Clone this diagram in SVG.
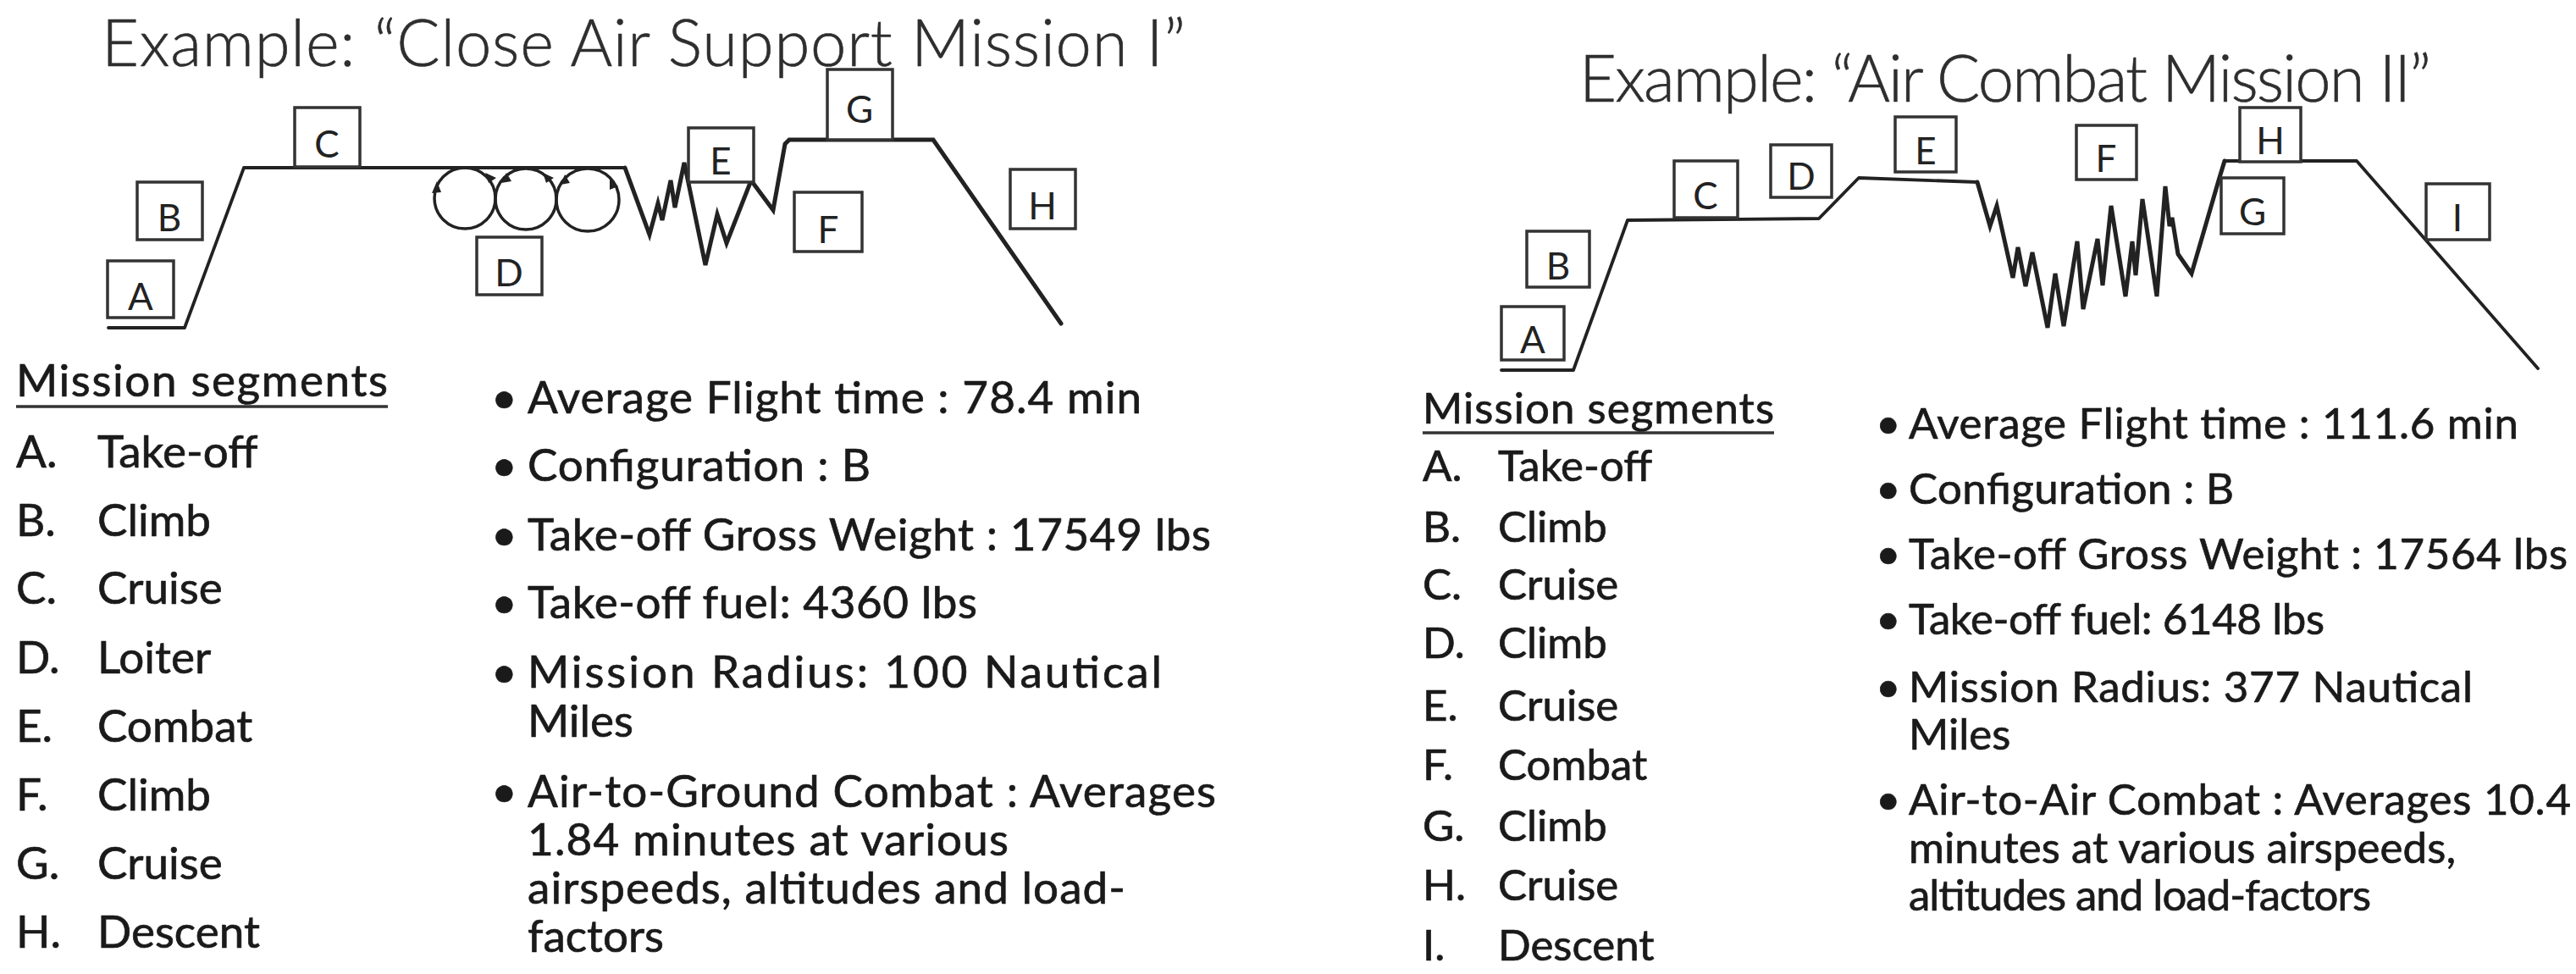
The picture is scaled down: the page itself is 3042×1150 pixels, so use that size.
<svg xmlns="http://www.w3.org/2000/svg" width="3042" height="1150" viewBox="0 0 3042 1150">
<style>
.bg{fill:#ffffff}
.title{font-family:Lato,"Open Sans","DejaVu Sans",sans-serif;font-weight:300;fill:#2e2e2e;stroke:#2e2e2e;stroke-width:0.6}
.box rect{fill:#ffffff;stroke:#333333;stroke-width:3.5}
.box text{font-family:Lato,"Open Sans","DejaVu Sans",sans-serif;font-size:44px;fill:#222222;text-anchor:middle}
.path{fill:none;stroke:#222222;stroke-width:3.8;stroke-linejoin:round;stroke-linecap:round}
.zig{fill:none;stroke:#222222;stroke-width:5;stroke-linejoin:miter;stroke-linecap:round}
.loop{fill:none;stroke:#222222;stroke-width:3.5}
.arr{fill:#222222}
.tl{font-family:Lato,"Open Sans","DejaVu Sans",sans-serif;font-size:53px;fill:#1a1a1a;stroke:#1a1a1a;stroke-width:0.7}
.tr{font-family:Lato,"Open Sans","DejaVu Sans",sans-serif;font-size:51px;fill:#1a1a1a;stroke:#1a1a1a;stroke-width:0.7}
.ul{stroke:#333333;stroke-width:3.5}
</style>
<rect class="bg" x="0" y="0" width="3042" height="1150"/>

<g id="titles">
<text class="title" x="120" y="78" font-size="76" textLength="1280">Example: “Close Air Support Mission I”</text>
<text class="title" x="1865" y="120" font-size="76" textLength="1006">Example: “Air Combat Mission II”</text>
</g>

<g id="connectors">
<path class="path" d="M128,387 L218,387 L288,198 L738,198"/>
<path class="zig" d="M738,198 L767,277 L777,240 L782,260 L792,213 L797,245 L808,192 L833,313 L847,253 L858,287 L887,213 L913,248 L927,170 L932,165 L1102,165 L1253,382"/>
<circle class="loop" cx="549" cy="234" r="36"/>
<circle class="loop" cx="621" cy="235" r="36"/>
<circle class="loop" cx="694" cy="236" r="37"/>
<polygon class="arr" points="510,228 516,214 521,227"/>
<polygon class="arr" points="573,204 586,210 577,216"/>
<polygon class="arr" points="592,216 598,204 604,214"/>
<polygon class="arr" points="641,204 654,210 645,216"/>
<polygon class="arr" points="662,218 667,206 673,216"/>
<polygon class="arr" points="720,210 730,220 720,224"/>
<path class="path" d="M1773,437 L1858,437 L1922,260 L2148,258 L2195,210 L2335,215"/>
<path class="zig" d="M2335,215 L2350,267 L2358,243 L2377,328 L2383,292 L2392,338 L2400,298 L2418,387 L2427,323 L2437,385 L2453,285 L2460,365 L2477,282 L2483,337 L2493,243 L2510,350 L2518,285 L2522,325 L2530,235 L2547,350 L2557,220 L2562,267 L2565,257 L2572,300 L2588,323 L2620,213 L2627,190"/>
<path class="path" d="M2627,190 L2783,190 L2997,435"/>
</g>

<g id="left-A" class="box"><rect x="127" y="308" width="78" height="67"/><text x="166" y="366">A</text></g>
<g id="left-B" class="box"><rect x="162" y="215" width="77" height="68"/><text x="200" y="273">B</text></g>
<g id="left-C" class="box"><rect x="348" y="127" width="77" height="70"/><text x="386" y="186">C</text></g>
<g id="left-D" class="box"><rect x="563" y="280" width="77" height="68"/><text x="601" y="338">D</text></g>
<g id="left-E" class="box"><rect x="813" y="151" width="77" height="64"/><text x="851" y="206">E</text></g>
<g id="left-F" class="box"><rect x="938" y="227" width="80" height="70"/><text x="978" y="287">F</text></g>
<g id="left-G" class="box"><rect x="977" y="82" width="77" height="83"/><text x="1015" y="145">G</text></g>
<g id="left-H" class="box"><rect x="1193" y="200" width="77" height="70"/><text x="1231" y="259">H</text></g>

<g id="right-A" class="box"><rect x="1773" y="362" width="74" height="63"/><text x="1810" y="417">A</text></g>
<g id="right-B" class="box"><rect x="1803" y="273" width="74" height="66"/><text x="1840" y="330">B</text></g>
<g id="right-C" class="box"><rect x="1977" y="190" width="75" height="67"/><text x="2014" y="247">C</text></g>
<g id="right-D" class="box"><rect x="2091" y="171" width="72" height="62"/><text x="2127" y="224">D</text></g>
<g id="right-E" class="box"><rect x="2238" y="138" width="72" height="65"/><text x="2274" y="194">E</text></g>
<g id="right-F" class="box"><rect x="2452" y="148" width="71" height="64"/><text x="2487" y="203">F</text></g>
<g id="right-G" class="box"><rect x="2623" y="210" width="74" height="66"/><text x="2660" y="266">G</text></g>
<g id="right-H" class="box"><rect x="2645" y="127" width="72" height="64"/><text x="2681" y="182">H</text></g>
<g id="right-I" class="box"><rect x="2865" y="217" width="75" height="66"/><text x="2902" y="273">I</text></g>

<g id="left-segments" class="tl">
<text x="19" y="468" textLength="439">Mission segments</text>
<line class="ul" x1="19" y1="480" x2="458" y2="480"/>
<text x="19" y="552">A.</text><text x="115" y="552">Take-off</text>
<text x="19" y="633">B.</text><text x="115" y="633">Climb</text>
<text x="19" y="713">C.</text><text x="115" y="713">Cruise</text>
<text x="19" y="795">D.</text><text x="115" y="795">Loiter</text>
<text x="19" y="876">E.</text><text x="115" y="876">Combat</text>
<text x="19" y="957">F.</text><text x="115" y="957">Climb</text>
<text x="19" y="1038">G.</text><text x="115" y="1038">Cruise</text>
<text x="19" y="1119">H.</text><text x="115" y="1119">Descent</text>
</g>

<g id="left-facts" class="tl">
<text x="580" y="488">•</text><text x="623" y="488" textLength="725">Average Flight time : 78.4 min</text>
<text x="580" y="568">•</text><text x="623" y="568" textLength="405">Configuration : B</text>
<text x="580" y="650">•</text><text x="623" y="650" textLength="807">Take-off Gross Weight : 17549 lbs</text>
<text x="580" y="730">•</text><text x="623" y="730" textLength="531">Take-off fuel: 4360 lbs</text>
<text x="580" y="812">•</text><text x="623" y="812" textLength="749">Mission Radius: 100 Nautical</text>
<text x="623" y="870">Miles</text>
<text x="580" y="953">•</text><text x="623" y="953" textLength="813">Air-to-Ground Combat : Averages</text>
<text x="623" y="1010" textLength="568">1.84 minutes at various</text>
<text x="623" y="1067" textLength="706">airspeeds, altitudes and load-</text>
<text x="623" y="1124">factors</text>
</g>

<g id="right-segments" class="tr">
<text x="1680" y="500" textLength="415">Mission segments</text>
<line class="ul" x1="1680" y1="511" x2="2095" y2="511"/>
<text x="1680" y="568">A.</text><text x="1769" y="568">Take-off</text>
<text x="1680" y="640">B.</text><text x="1769" y="640">Climb</text>
<text x="1680" y="708">C.</text><text x="1769" y="708">Cruise</text>
<text x="1680" y="777">D.</text><text x="1769" y="777">Climb</text>
<text x="1680" y="851">E.</text><text x="1769" y="851">Cruise</text>
<text x="1680" y="921">F.</text><text x="1769" y="921">Combat</text>
<text x="1680" y="993">G.</text><text x="1769" y="993">Climb</text>
<text x="1680" y="1063">H.</text><text x="1769" y="1063">Cruise</text>
<text x="1680" y="1134">I.</text><text x="1769" y="1134">Descent</text>
</g>

<g id="right-facts" class="tr">
<text x="2215" y="518">•</text><text x="2254" y="518" textLength="720">Average Flight time : 111.6 min</text>
<text x="2215" y="595">•</text><text x="2254" y="595" textLength="384">Configuration : B</text>
<text x="2215" y="672">•</text><text x="2254" y="672" textLength="778">Take-off Gross Weight : 17564 lbs</text>
<text x="2215" y="749">•</text><text x="2254" y="749" textLength="491">Take-off fuel: 6148 lbs</text>
<text x="2215" y="829">•</text><text x="2254" y="829" textLength="666">Mission Radius: 377 Nautical</text>
<text x="2254" y="885">Miles</text>
<text x="2215" y="962">•</text><text x="2254" y="962" textLength="782">Air-to-Air Combat : Averages 10.4</text>
<text x="2254" y="1019" textLength="646">minutes at various airspeeds,</text>
<text x="2254" y="1075" textLength="546">altitudes and load-factors</text>
</g>
</svg>
